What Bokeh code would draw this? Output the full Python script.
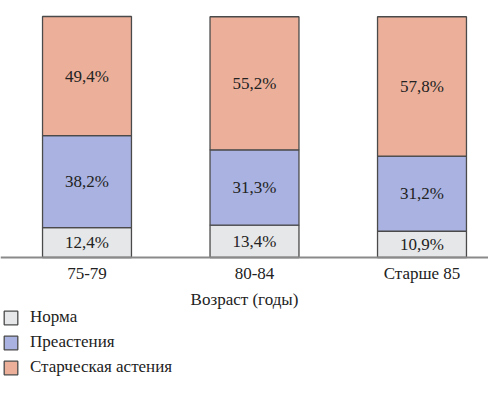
from bokeh.plotting import figure
from bokeh.models import ColumnDataSource, Range1d, FixedTicker, Legend, LegendItem, LinearAxis
from bokeh.core.properties import value
from bokeh.embed import file_html
from bokeh.resources import INLINE

groups = ["75-79", "80-84", "Старше 85"]
norma = [12.4, 13.4, 10.9]
preasthenia = [38.2, 31.3, 31.2]
asthenia = [49.4, 55.2, 57.8]
series_names = ["Норма", "Преастения", "Старческая астения"]
colors = ["#E6E7E9", "#A9B2E0", "#ECB09A"]

FONT = "'Liberation Serif', serif"
TXT = "#222222"
xs = list(range(len(groups)))

src = ColumnDataSource(dict(x=xs, norma=norma, pre=preasthenia, ast=asthenia))

p = figure(width=488, height=377, output_backend="svg", toolbar_location=None,
           x_range=Range1d(-0.5164, 2.397), y_range=Range1d(-49.79, 106.64),
           x_axis_location=None, y_axis_location=None,
           min_border_left=0, min_border_right=0, min_border_top=0, min_border_bottom=0)
p.outline_line_color = None
p.xgrid.visible = False
p.ygrid.visible = False

renderers = p.vbar_stack(["norma", "pre", "ast"], x="x", width=0.531, source=src,
                         fill_color=colors, line_color="#4a4a4a", line_width=1.3)

# segment labels
lx, ly, lt = [], [], []
for i in range(len(groups)):
    base = 0.0
    for vals in (norma, preasthenia, asthenia):
        v = vals[i]
        lx.append(xs[i])
        ly.append(base + v / 2)
        lt.append(f"{v:.1f}%".replace(".", ","))
        base += v
p.text(x=lx, y=ly, text=lt, text_align="center", text_baseline="middle",
       text_font=value(FONT), text_font_size="17px", text_color=TXT)

ax = LinearAxis(fixed_location=0)
ax.ticker = FixedTicker(ticks=xs)
ax.major_label_overrides = {i: g for i, g in zip(xs, groups)}
ax.major_tick_line_color = None
ax.minor_tick_line_color = None
ax.axis_line_color = "#8a8a8a"
ax.axis_line_width = 2
ax.major_label_text_font = FONT
ax.major_label_text_font_size = "17px"
ax.major_label_text_color = TXT
ax.major_label_standoff = 0
ax.axis_label = "Возраст (годы)"
ax.axis_label_text_font = FONT
ax.axis_label_text_font_size = "17px"
ax.axis_label_text_font_style = "normal"
ax.axis_label_text_color = TXT
ax.axis_label_standoff = 4
p.add_layout(ax, "below")

legend = Legend(items=[LegendItem(label=n, renderers=[r]) for n, r in zip(series_names, renderers)],
                location=(2, 0), orientation="vertical",
                glyph_width=17, glyph_height=17, label_height=17, spacing=5,
                label_standoff=11, padding=0, margin=0,
                border_line_color=None, background_fill_alpha=0,
                label_text_font=FONT, label_text_font_size="17px", label_text_color=TXT)
p.add_layout(legend, "center")

open("out.html", "w").write(file_html(p, INLINE))
